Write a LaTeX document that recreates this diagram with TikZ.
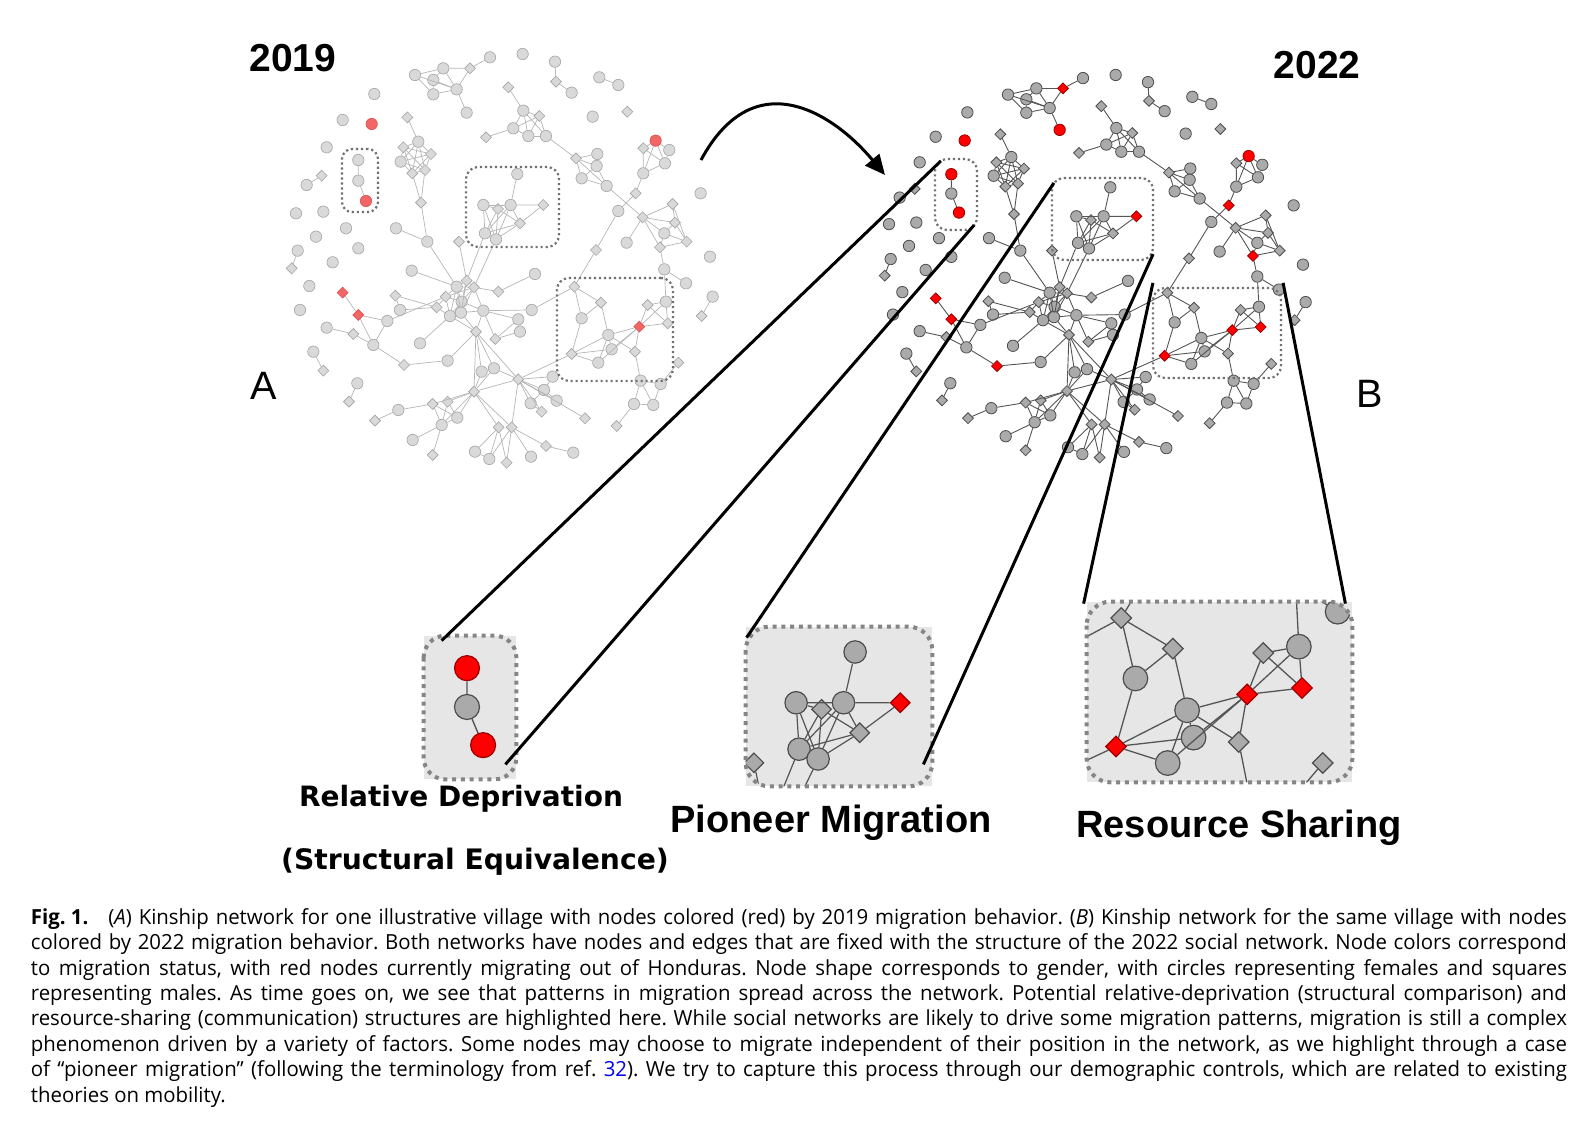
\documentclass[tikz,border=0pt]{standalone}
\usepackage{fontspec}
\setmainfont{Open Sans}[FakeStretch=0.98]
\newfontfamily\headfont{Liberation Sans}
\newfontfamily\labfont{DejaVu Sans}
\usetikzlibrary{shapes.geometric,arrows.meta}

\definecolor{fill19}{HTML}{D9D9D9}
\definecolor{line19}{HTML}{A3A3A3}
\definecolor{edge19}{HTML}{B5B5B5}
\definecolor{red19}{HTML}{F26666}
\definecolor{redline19}{HTML}{D85050}
\definecolor{fill22}{HTML}{AAAAAA}
\definecolor{line22}{HTML}{4D4D4D}
\definecolor{edge22}{HTML}{555555}
\definecolor{red22}{HTML}{FF0000}
\definecolor{redline22}{HTML}{9A0000}
\definecolor{insetbg}{HTML}{E6E6E6}
\definecolor{dotgray}{HTML}{707070}
\definecolor{refblue}{HTML}{0000EE}

% node sizes and line widths, redefined inside the scopes
\newcommand{\csz}{5.7pt}
\newcommand{\dsz}{5.6pt}
\newcommand{\nlw}{0.3pt}
\newcommand{\elw}{0.35pt}
\newcommand{\capline}[1]{\makebox[768pt][s]{#1}}

\tikzset{
  nd/.style={inner sep=0pt, line width=\nlw},
  cn/.style={nd, circle, minimum size=\csz},
  dn/.style={nd, diamond, minimum size=\dsz},
  net19/.style={
    c0/.style={cn, fill=fill19, draw=line19}, c1/.style={c0},
    c2/.style={cn, fill=red19, draw=redline19},
    d0/.style={dn, fill=fill19, draw=line19}, d1/.style={d0},
    d2/.style={dn, fill=red19, draw=redline19},
    tie/.style={draw=edge19, line width=\elw}},
  net22/.style={
    c0/.style={cn, fill=fill22, draw=line22},
    c1/.style={cn, fill=red22, draw=redline22}, c2/.style={c1},
    d0/.style={dn, fill=fill22, draw=line22},
    d1/.style={dn, fill=red22, draw=redline22}, d2/.style={d1},
    tie/.style={draw=edge22, line width=\elw}},
  netbox/.style={draw=dotgray, line width=1.1pt, dash pattern=on 1.1pt off 1.4pt,
    rounded corners=6pt, inner sep=0pt},
  zoombg/.style={fill=insetbg, inner sep=0pt},
  zoomedge/.style={draw=dotgray!85, line width=2pt, dash pattern=on 2pt off 2.4pt},
  zoomline/.style={line width=1.5pt},
}

% kinship network, one layout for both years
\def\netnodes{%
t1/435/135/c0, t2/520/115/c0, t3/600/115/d1, t4/660/82/c0, t5/490/150/c0, t6/560/178/c0, t7/490/193/c0, t8/590/248/c1,
i1/758/72/c0, i2/855/95/c0, i3/858/155/d0, i4/905/188/c0, i5/988/142/c0, i6/1045/165/c0, i7/313/192/c0, i8/218/270/c0,
i9/305/282/c2, i10/968/260/c0, i11/1072/245/d0, i12/170/352/c0, i13/155/437/d0, i14/110/465/c0, i15/78/550/c0,
i16/160/545/c0, i17/228/595/c0, i18/138/620/c0, i19/83/662/c0, i20/65/715/d0, i21/265/655/c0, i22/188/697/c0,
i23/118/768/c0, i24/90/840/c0, i25/130/965/c0, i26/160/1022/d0, i27/262/1060/c0, i28/237/1115/d0, i29/1292/490/c0,
i30/1320/680/c0, i31/1328/800/c0, i32/1295/858/d0,
s1/265/390/c1, s2/265/452/c0, s3/288/513/c2,
m1/412/262/d0, m2/445/335/c0, m3/400/352/d0, m4/483/372/d0, m5/392/395/c0, m6/427/430/d0, m7/465/420/d0,
m8/453/518/d0, m9/472/635/c0, m10/378/595/c0,
h1/560/770/c0, h2/590/752/d0, h3/612/772/d0, h4/527/800/d0, h5/575/815/c0, h6/540/858/c0, h7/573/848/c0,
h8/640/842/c0, h9/500/832/d0, h10/618/905/d0,
a1/425/722/c0, a2/795/732/c0, a3/685/785/d0, a4/376/797/d0, a5/390/840/c0, a6/352/873/c0, a7/450/940/c0,
a8/785/840/c0, a9/745/868/c0, a10/750/905/c0, a11/676/927/d0, g1/567/635/d0,
k1/742/432/c0, k2/640/525/c0, k3/684/537/d0, k4/722/525/c0, k5/820/525/d1, k6/750/580/d0, k7/645/610/c0, k8/678/628/c0,
r1/218/788/d2, r2/265/855/d2, r3/310/945/c0, r4/250/912/d0, r5/170/893/c0, r6/402/1005/d1, r7/533/992/c0,
l1/635/1025/c0, l2/672/1015/c0, l3/745/1048/d0, l4/612/1085/d0, l5/848/1040/c0, l6/822/1080/c0, l7/782/1120/c0,
l8/815/1145/d0, l9/860/1112/c0, l10/945/1165/d0,
u1/533/1115/d0, u2/488/1122/d0, u3/385/1140/c0, u4/315/1172/d0, u5/515/1185/c0, u6/562/1163/c0, u7/428/1230/c0, u8/488/1275/d0,
v1/686/1192/d0, v2/725/1192/d0, v3/615/1265/c0, v4/658/1287/c0, v5/710/1298/d0, v6/783/1280/c0, v7/828/1248/d0, v8/910/1268/c0,
p1/715/172/d0, p2/760/242/c0, p3/808/258/d0, p4/730/295/c0, p5/775/318/c0, p6/828/318/c0, p7/648/322/d0,
q1/918/385/d0, q2/982/372/c0, q3/980/408/c0, q4/935/445/c0, q5/1010/468/c0,
w0/1157/332/c2, w2/1120/355/d0, w3/1198/360/c0, w4/1185/400/c0, w5/1120/430/c0, w6/1097/490/d1, x1/1045/543/c0, x2/978/660/d0,
w1/1118/562/d0, y1/1208/522/d0, y2/1215/578/d0, y3/1183/610/c0, y4/1250/635/d0, y5/1070/638/c0, y6/1170/652/d1,
z1/1183/718/c0, z2/1248/760/c0, z3/1188/815/c0,
b1/913/770/d0, b2/993/818/d0, b3/935/865/c0, b4/1015/915/c0, b5/1108/890/d2, b6/1133/825/d0, b7/1193/880/d1,
b8/1025/958/c0, b9/1095/965/d0, b10/985/998/c0, b11/905/972/d1,
e1/1112/1052/c0, e2/1225/998/d0, e3/1172/1062/c0, e4/1092/1122/c0, e5/1150/1125/c0, e6/1040/1188/d0}

\def\netedges{%
t1/t2, t1/t7, t1/t6, t2/t3, t3/t4, t2/t5, t2/t6, t5/t6, t5/t7, t7/t6, t6/t8, t3/t6,
i2/i3, i3/i4, i5/i6, i13/i14, i19/i20, i25/i26, i27/i28, i31/i32, s1/s2, s2/s3,
m1/m2, m2/m3, m2/m4, m2/m5, m2/m6, m2/m7, m3/m4, m3/m5, m3/m6, m3/m7, m4/m5, m4/m6, m4/m7, m5/m6, m5/m7, m6/m7,
m6/m8, m7/m8, m8/m9, m10/m9, m9/h1,
h1/h2, h1/h3, h1/h4, h1/h5, h1/h6, h1/h7, h2/h3, h2/h5, h2/h7, h3/h5, h3/h8, h3/h7, h4/h5, h4/h6, h4/h9, h5/h6,
h5/h7, h5/h8, h6/h7, h6/h10, h7/h8, h7/h10, h8/h10, h9/h6, h3/h4,
a1/h1, a2/a3, a3/h3, a4/a5, a5/h9, a4/h9, a6/h4, a7/h6, a8/h8, a8/b1, a9/a11, a10/a11, a9/a10, a9/h8, a11/h8, g1/h2,
k1/k4, k2/k3, k4/k5, k2/k7, k2/k8, k3/k7, k3/k8, k4/k7, k4/k8, k4/k6, k7/k6, k8/k6, k5/k6, k3/k6, k7/h2, k8/h3, k2/k4,
r1/r2, r2/r3, r2/a6, a6/r3, r5/r4, r4/r3, r3/r6, r6/r7, r7/h10,
h10/l4, h10/l1, h10/l2, h10/l3, l1/l2, l1/l4, l2/l4, l2/l3, l3/l4, l3/l5, l3/l6, l3/l7, l3/l8, l3/l9, l3/l10,
l6/l7, l6/l9, l7/l8, l5/l6, l3/b11,
l4/u1, l4/u2, l4/u6, l4/u5, u2/u3, u3/u4, u1/u5, u1/u6, u2/u5, u2/u6, u5/u6, u5/u7, u5/u8,
l4/v1, l4/v2, l3/v2, v1/v3, v1/v4, v1/v5, v2/v4, v2/v5, v2/v6, v2/v7, v7/v8, v3/v4,
p1/p2, p2/p3, p2/p4, p2/p5, p2/p6, p3/p4, p3/p5, p3/p6, p4/p5, p5/p6, p4/p7, p6/q1,
q1/q2, q1/q3, q1/q4, q2/q3, q3/q4, q3/q5, q4/q5, q1/q5, q5/w1,
w0/w2, w0/w3, w0/w4, w0/w5, w2/w5, w3/w4, w4/w5, w2/w4, w5/w6, w6/x1, x1/x2, x2/b1,
w1/y1, w1/y2, w1/y3, w1/y5, w1/y6, y1/y2, y1/y4, y2/y3, y2/y4, y3/y4, y3/y6, y6/y4, y6/z1, z1/z3, z1/z2,
b1/b2, b1/b3, b2/b3, b2/b4, b3/b11, b11/b4, b11/b8, b11/b10, b4/b5, b4/b8, b4/b9, b10/b4, b10/b5, b8/b5, b9/b5,
b5/b6, b5/z3, b5/b7, b6/z3, z3/b7, b6/b7, b9/e1,
e1/e3, e1/e4, e1/e5, e3/e5, e4/e5, e4/e6, e2/e3}

\newcommand{\drawnet}[1]{%
  \foreach \n/\x/\y/\s in \netnodes {\node[\s] (#1\n) at (\x,\y) {};}
  \foreach \a/\b in \netedges {\draw[tie] (#1\a) -- (#1\b);}
}

\begin{document}
\begin{tikzpicture}[x=0.5pt, y=-0.5pt]
\useasboundingbox (0,0) rectangle (1594,1120);

% 2019 network
\begin{scope}[net19, shift={(270,30)}, xscale=0.3333, yscale=0.3333]
\drawnet{L}
\end{scope}
\node[netbox, rounded corners=5pt, minimum width=18pt, minimum height=31.5pt] (boxAs) at (360,180.5) {};
\node[netbox, minimum width=46.5pt, minimum height=40pt] (boxAm) at (512.5,207) {};
\node[netbox, minimum width=58pt, minimum height=51.5pt] (boxAr) at (615,329.5) {};

% 2022 network
\begin{scope}[net22, shift={(863,52.5)}, xscale=0.3333, yscale=0.312]
\def\nlw{0.4pt}\def\elw{0.45pt}
\drawnet{R}
\end{scope}
\node[netbox, minimum width=21pt, minimum height=35.5pt] (boxBs) at (956,194.5) {};
\node[netbox, minimum width=50.5pt, minimum height=41pt] (boxBm) at (1102.5,219) {};
\node[netbox, minimum width=64pt, minimum height=45pt] (boxBr) at (1217,333) {};

\node[font=\headfont\bfseries\fontsize{19.5}{20}\selectfont] (yearA) at (293,58) {2019};
\node[font=\headfont\bfseries\fontsize{19.5}{20}\selectfont] (yearB) at (1317,65) {2022};
\node[font=\headfont\fontsize{19.8}{20}\selectfont] (panelA) at (264,386) {A};
\node[font=\headfont\fontsize{19.8}{20}\selectfont] (panelB) at (1370,394) {B};

\coordinate (arrowfrom) at (701,160);
\coordinate (arrowto) at (885,175);
\draw[line width=1.5pt, -{Triangle[length=10pt, width=9pt]}] (arrowfrom) .. controls (755,60) and (835,115) .. (arrowto);

% relative deprivation
\node[zoombg, minimum width=46pt, minimum height=71.5pt] (relbox) at (470,707.5) {};
\begin{scope}
\clip[rounded corners=11pt] (relbox.north west) rectangle (relbox.south east);
\begin{scope}[net22, shift={(281.5,424)}, xscale=0.70, yscale=0.626]
\def\csz{12.5pt}\def\dsz{11pt}\def\nlw{0.6pt}\def\elw{0.7pt}
\drawnet{Q}
\end{scope}
\end{scope}
\draw[zoomedge, rounded corners=11pt] (relbox.north west) rectangle (relbox.south east);

% pioneer migration
\node[zoombg, minimum width=93pt, minimum height=79.5pt] (piobox) at (839,706.5) {};
\begin{scope}
\clip[rounded corners=12pt] (piobox.north west) rectangle (piobox.south east);
\begin{scope}[net22, shift={(426.2,416.1)}, xscale=0.578, yscale=0.546]
\def\csz{11.2pt}\def\dsz{10pt}\def\nlw{0.6pt}\def\elw{0.6pt}
\drawnet{P}
\end{scope}
\end{scope}
\draw[zoomedge, rounded corners=12pt] (piobox.north west) rectangle (piobox.south east);

% resource sharing
\node[zoombg, minimum width=132.5pt, minimum height=90pt] (resbox) at (1219.5,692) {};
\begin{scope}
\clip[rounded corners=12pt] (resbox.north west) rectangle (resbox.south east);
\begin{scope}[net22, shift={(531.4,128.3)}, xscale=0.646, yscale=0.636]
\def\csz{12.3pt}\def\dsz{10.5pt}\def\nlw{0.6pt}\def\elw{0.65pt}
\drawnet{S}
\end{scope}
\end{scope}
\draw[zoomedge, rounded corners=12pt] (resbox.north west) rectangle (resbox.south east);

\draw[zoomline] ([shift={(18,5)}]relbox.north west) -- ([shift={(7,3)}]boxBs.north west);
\draw[zoomline] ([shift={(-11,-15)}]relbox.south east) -- ([shift={(-4,-6)}]boxBs.south east);
\draw[zoomline] ([shift={(1,11)}]piobox.north west) -- ([shift={(3,6)}]boxBm.north west);
\draw[zoomline] ([shift={(-9,-22)}]piobox.south east) -- ([shift={(-1,-7)}]boxBm.south east);
\draw[zoomline] ([shift={(-3,2)}]resbox.north west) -- ([shift={(1,-4)}]boxBr.north west);
\draw[zoomline] ([shift={(-7,2)}]resbox.north east) -- ([shift={(1,-4)}]boxBr.north east);

\node[font=\labfont\bfseries\fontsize{14}{15}\selectfont] (reltitle) at (461,799) {Relative Deprivation};
\node[font=\labfont\bfseries\fontsize{14.1}{15}\selectfont] (relsub) at (475,862) {(Structural Equivalence)};
\node[font=\headfont\bfseries\fontsize{19}{20}\selectfont] (piotitle) at (831,823) {Pioneer Migration};
\node[font=\headfont\bfseries\fontsize{19}{20}\selectfont] (restitle) at (1239,828) {Resource Sharing};

\node[anchor=north west, inner sep=0pt, align=left, font=\fontsize{10.4}{12.7}\selectfont\frenchspacing] (caption) at (30.5,908) {%
\capline{\mbox{\textbf{Fig. 1.}}\hspace*{10pt}(\textit{A}) Kinship network for one illustrative village with nodes colored (red) by 2019 migration behavior. (\textit{B}) Kinship network for the same village with nodes}\\
\capline{colored by 2022 migration behavior. Both networks have nodes and edges that are fixed with the structure of the 2022 social network. Node colors correspond}\\
\capline{to migration status, with red nodes currently migrating out of Honduras. Node shape corresponds to gender, with circles representing females and squares}\\
\capline{representing males. As time goes on, we see that patterns in migration spread across the network. Potential relative-deprivation (structural comparison) and}\\
\capline{resource-sharing (communication) structures are highlighted here. While social networks are likely to drive some migration patterns, migration is still a complex}\\
\capline{phenomenon driven by a variety of factors. Some nodes may choose to migrate independent of their position in the network, as we highlight through a case}\\
\capline{of “pioneer migration” (following the terminology from ref. \textcolor{refblue}{32}). We try to capture this process through our demographic controls, which are related to existing}\\
theories on mobility.};
\end{tikzpicture}
\end{document}
